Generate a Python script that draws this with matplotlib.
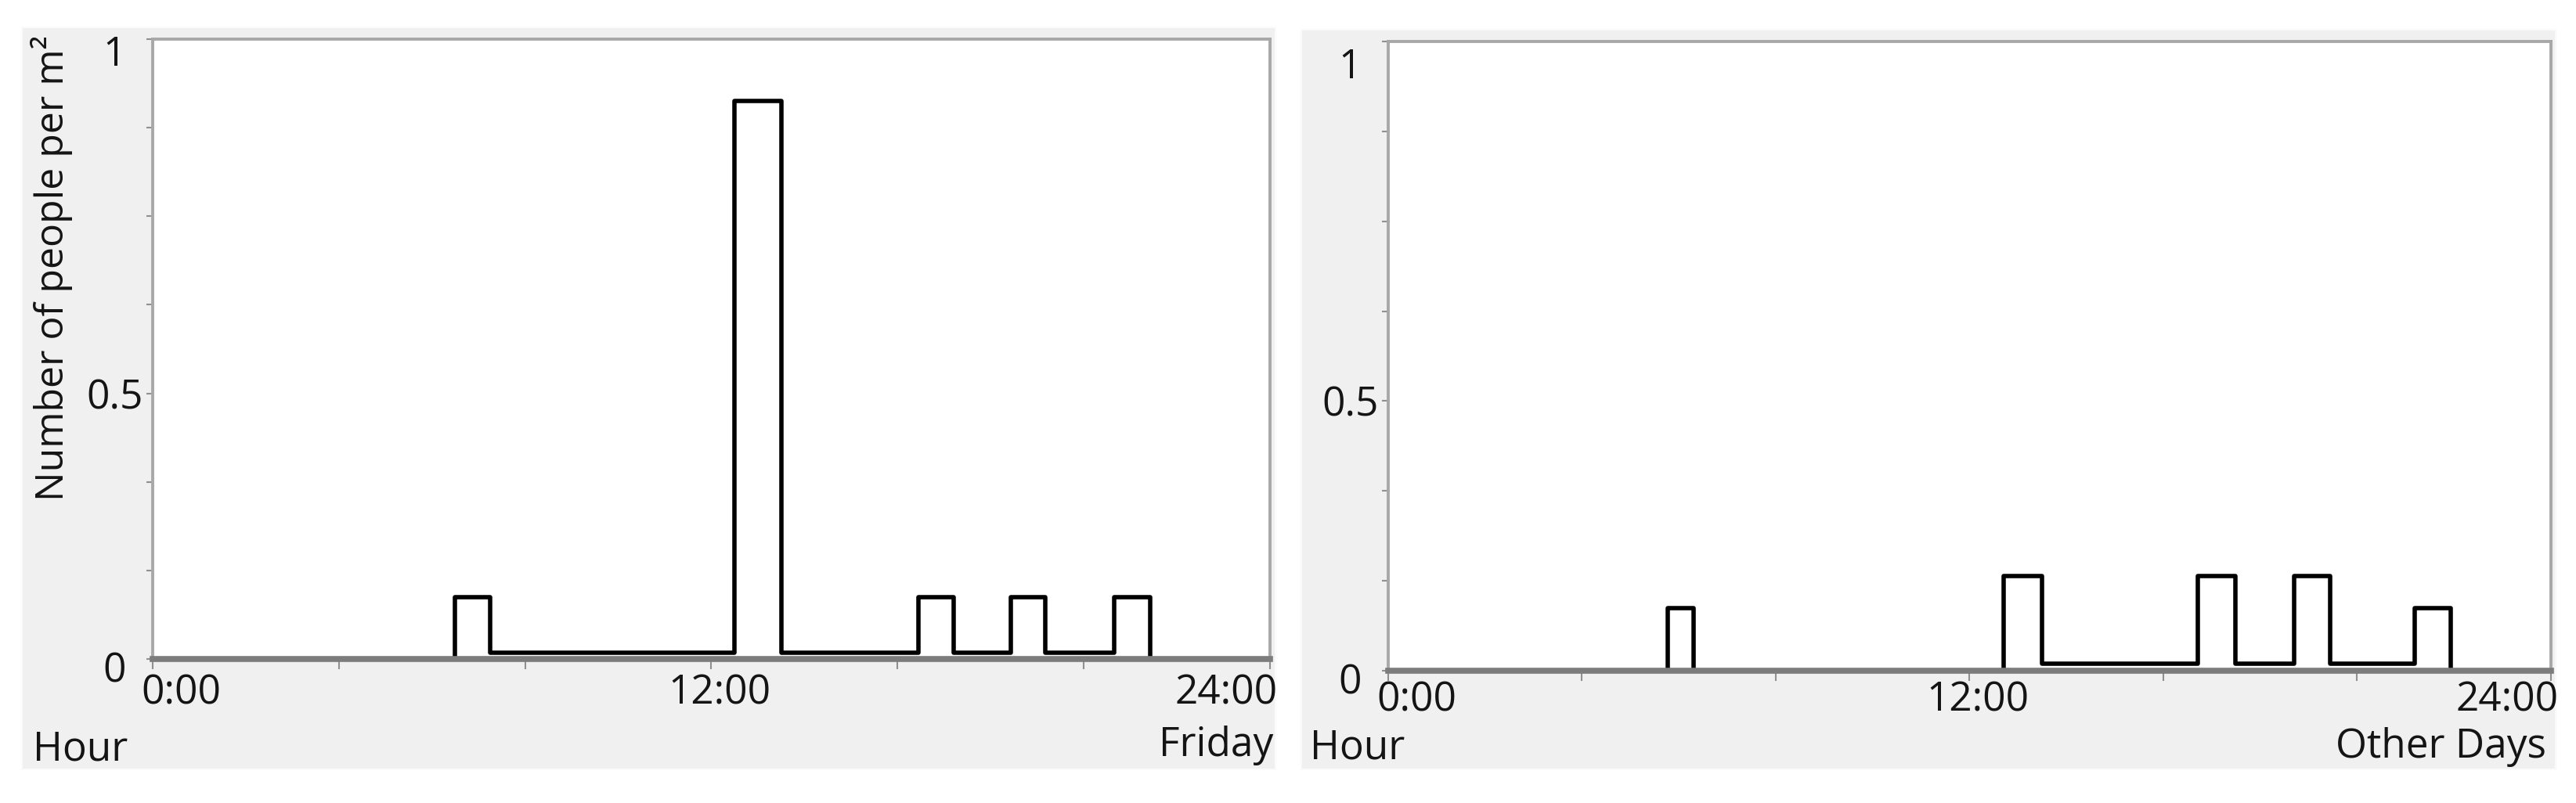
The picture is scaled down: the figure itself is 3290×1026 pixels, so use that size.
import matplotlib
matplotlib.use("Agg")
import matplotlib.pyplot as plt
from matplotlib.patches import Rectangle
from matplotlib.transforms import ScaledTranslation

# occupancy profiles: hour where each step starts and people per m2 from there on
friday_hours = [0, 6.5, 7.25, 12.5, 13.5, 16.45, 17.2, 18.43, 19.17, 20.65, 21.43, 24]
friday_people = [0, 0.10, 0.01, 0.90, 0.01, 0.10, 0.01, 0.10, 0.01, 0.10, 0, 0]

other_hours = [0, 5.77, 6.3, 12.7, 13.5, 16.71, 17.48, 18.7, 19.45, 21.18, 21.93, 24]
other_people = [0, 0.10, 0, 0.15, 0.011, 0.15, 0.011, 0.15, 0.011, 0.10, 0, 0]

x_ticks = [0, 4, 8, 12, 16, 20, 24]
x_labels = ["0:00", "", "", "12:00", "", "", "24:00"]
y_ticks = [0, 1 / 7, 2 / 7, 3 / 7, 4 / 7, 5 / 7, 6 / 7, 1]
y_labels = ["0", "", "", "0.5", "", "", "", "1"]

W, H = 3291, 1026
FONT = "Open Sans"
TXT = "#141414"

plt.rcParams["font.family"] = [FONT, "DejaVu Sans"]

fig = plt.figure(figsize=(W / 100, H / 100), dpi=100)
fig.patch.set_facecolor("white")


def px_box(x0, y0, x1, y1):
    # pixel box (top-left origin) -> figure fraction rect
    return [x0 / W, 1 - y1 / H, (x1 - x0) / W, (y1 - y0) / H]


def shift(artist, dx, dy):
    artist.set_transform(artist.get_transform() + ScaledTranslation(dx / 100, -dy / 100, fig.dpi_scale_trans))


def draw_panel(bg, box, hours, people, xpad, ylab_dy, day, hour_xy, day_xy):
    x0, y0, x1, y1 = bg
    fig.patches.append(Rectangle((x0 / W, 1 - y1 / H), (x1 - x0) / W, (y1 - y0) / H,
                                 transform=fig.transFigure, facecolor="#f0f0f0",
                                 edgecolor="#fafafa", lw=1.5, zorder=-10))
    ax = fig.add_axes(px_box(*box))
    ax.set_zorder(1)
    ax.set_facecolor("white")
    ax.step(hours, people, where="post", color="black", lw=4, zorder=2)
    ax.set_xlim(0, 24)
    ax.set_ylim(0, 1)

    for side in ["left", "top", "right"]:
        ax.spines[side].set_color("#a8a8a8")
        ax.spines[side].set_linewidth(2.8)
    ax.spines["bottom"].set_color("#7c7c7c")
    ax.spines["bottom"].set_linewidth(5.5)

    ax.set_xticks(x_ticks, x_labels)
    ax.set_yticks(y_ticks, y_labels)
    ax.tick_params(axis="x", length=9, width=1.5, color="#909090", pad=xpad, labelsize=37, labelcolor=TXT)
    ax.tick_params(axis="y", length=6, width=1.5, color="#909090", pad=29, labelsize=37, labelcolor=TXT)

    xl = ax.get_xticklabels()
    xl[0].set_ha("left")
    shift(xl[0], -15, 0)
    shift(xl[3], 10, 0)
    xl[6].set_ha("right")
    shift(xl[6], 10, 0)

    yl = ax.get_yticklabels()
    for lbl in yl:
        lbl.set_ha("center")
    shift(yl[0], 0, 10)
    shift(yl[7], 0, ylab_dy)

    fig.text(hour_xy[0] / W, 1 - hour_xy[1] / H, "Hour", ha="left", va="baseline",
             fontsize=37, color=TXT, zorder=3)
    fig.text(day_xy[0] / W, 1 - day_xy[1] / H, day, ha="right", va="baseline",
             fontsize=37, color=TXT, zorder=3)
    return ax


draw_panel((28, 35, 1629, 983), (195, 50, 1622, 842), friday_hours, friday_people,
           4, 14, "Friday", (42, 972), (1626, 966))
draw_panel((1662, 38, 3264, 983), (1773, 53, 3258, 857), other_hours, other_people,
           0, 27, "Other Days", (1673, 970), (3252, 968))

fig.text(66 / W, 1 - 45 / H, "Number of people per m\u00b2", rotation=90, ha="center", va="top",
         fontsize=36, color=TXT, zorder=3)

fig.savefig("out.png", dpi=100)
